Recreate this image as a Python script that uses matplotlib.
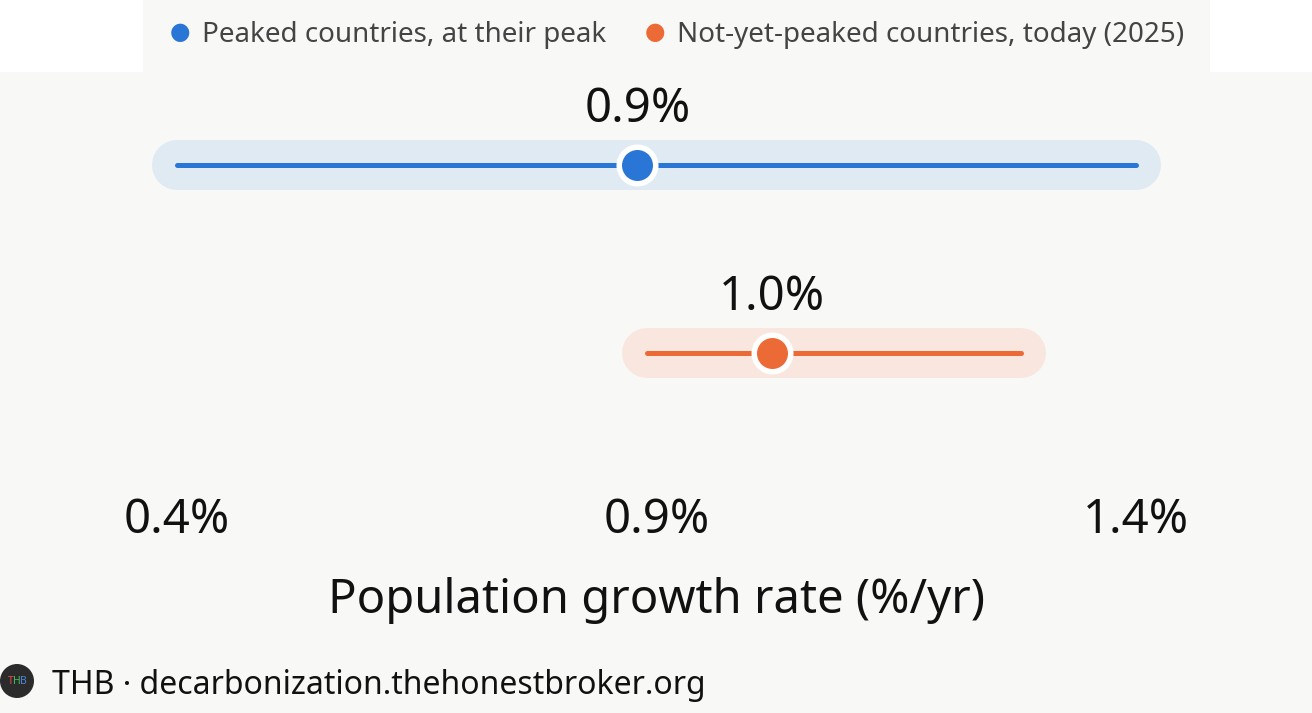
import matplotlib
matplotlib.use("Agg")
import matplotlib.pyplot as plt
from matplotlib.patches import Rectangle, Circle

# ---- data ----
series = ["Peaked countries, at their peak", "Not-yet-peaked countries, today (2025)"]
range_min = [0.40, 0.89]
range_max = [1.40, 1.28]
point_value = [0.88, 1.02]
point_labels = ["0.9%", "1.0%"]
tick_values = [0.4, 0.9, 1.4]
tick_labels = ["0.4%", "0.9%", "1.4%"]
x_label = "Population growth rate (%/yr)"
footer = "THB · decarbonization.thehonestbroker.org"

# ---- style ----
W, H, DPI = 1312, 713, 100
BG = "#f8f8f6"
colors = ["#2a76d6", "#ec6a35"]
band_colors = ["#e0eaf3", "#f9e7df"]
row_y = [165, 353]
FONT = ["Noto Sans", "DejaVu Sans"]
plt.rcParams["font.family"] = FONT

fig = plt.figure(figsize=(W / DPI, H / DPI), dpi=DPI, facecolor=BG)
ax = fig.add_axes([0, 0, 1, 1])
ax.set_facecolor(BG)
ax.axis("off")
px_per_unit = (1136 - 177) / (1.4 - 0.4)
x0 = 0.4 - 177 / px_per_unit
ax.set_xlim(x0, x0 + W / px_per_unit)
ax.set_ylim(H, 0)

pt = 72 / DPI  # points per pixel

# white corners beside the legend strip
fig.patches.append(Rectangle((0, 1 - 72 / H), 143 / W, 72 / H, transform=fig.transFigure,
                             facecolor="white", edgecolor="none", zorder=0))
fig.patches.append(Rectangle((1210 / W, 1 - 72 / H), (W - 1210) / W, 72 / H,
                             transform=fig.transFigure, facecolor="white", edgecolor="none", zorder=0))

for i in range(len(series)):
    y = row_y[i]
    ax.plot([range_min[i], range_max[i]], [y, y], color=band_colors[i],
            lw=50 * pt, solid_capstyle="round", zorder=1)
    ax.plot([range_min[i], range_max[i]], [y, y], color=colors[i],
            lw=5 * pt, solid_capstyle="round", zorder=2)
    ax.plot([point_value[i]], [y], marker="o", color=colors[i], ms=36.5 * pt,
            mec="white", mew=5.5 * pt, zorder=3)
    ax.text(point_value[i], y - 43, point_labels[i], ha="center", va="baseline",
            fontsize=34, color="#111111", zorder=4)

for v, lab in zip(tick_values, tick_labels):
    ax.text(v, 533, lab, ha="center", va="baseline", fontsize=34, color="#111111")

ax.text(0.9, 613, x_label, ha="center", va="baseline", fontsize=34, color="#111111")

# legend
leg_x_px = [180, 655]
for i in range(len(series)):
    fig.text(leg_x_px[i] / W, 1 - 32 / H, "●", color=colors[i], fontsize=17,
             ha="center", va="center", family="DejaVu Sans")
    fig.text((leg_x_px[i] + 22) / W, 1 - 42 / H, series[i], color="#444444",
             fontsize=20, ha="left", va="baseline")

# footer with icon
fig.patches.append(Circle((17, H - 681), 17, transform=None, facecolor="#2b2b2b", edgecolor="none"))
for ch, c, dx in zip("THB", ["#e04848", "#3fbf5f", "#4a86e0"], [-6.5, 0, 6.5]):
    fig.text((17 + dx) / W, 1 - 681 / H, ch, color=c, fontsize=7.5, fontweight="bold",
             ha="center", va="center")
fig.text(52 / W, 1 - 694 / H, footer, color="#111111", fontsize=23, ha="left", va="baseline")

fig.savefig("out.png", dpi=DPI, facecolor=BG)
